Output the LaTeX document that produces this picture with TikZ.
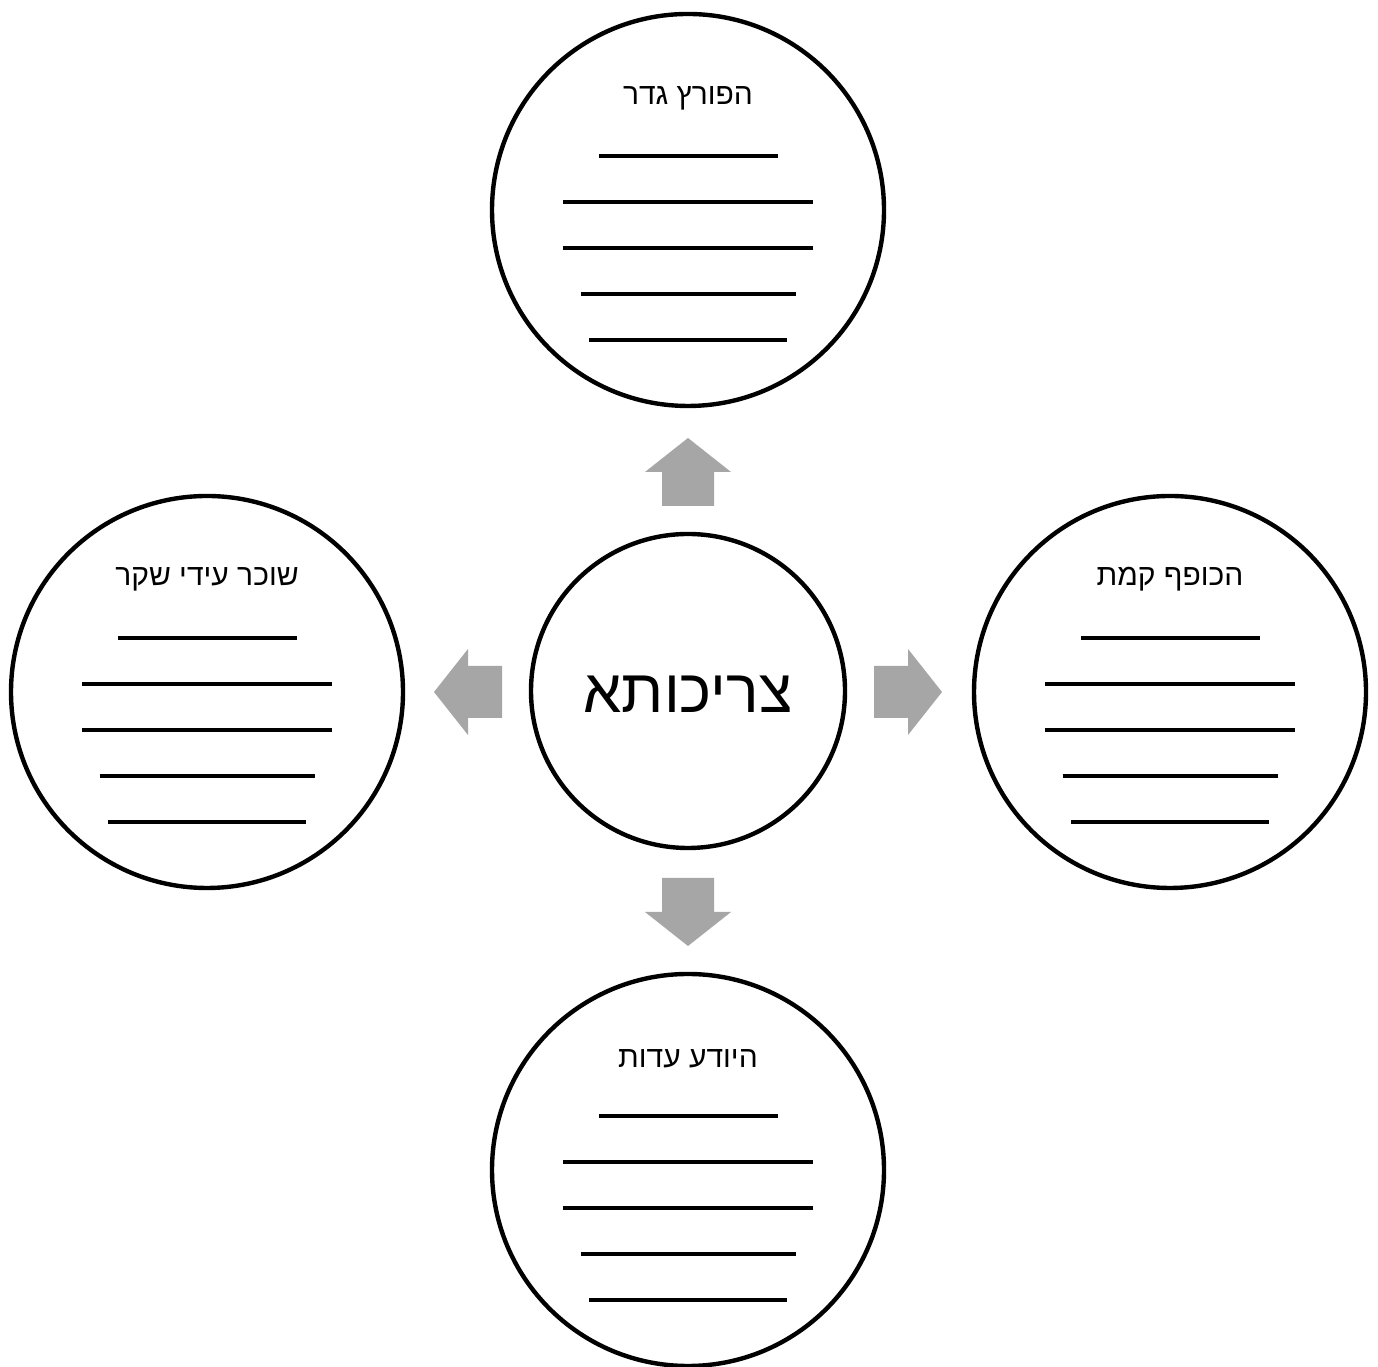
\documentclass[tikz,border=0pt]{standalone}
\usepackage{fontspec}
\setmainfont{Liberation Sans}
\newfontfamily\hebfont[Script=Hebrew]{Liberation Sans}
\TeXXeTstate=1
\usetikzlibrary{calc}
\definecolor{arrowgray}{HTML}{A6A6A6}
\tikzset{
  bubble/.style={circle,draw=black,line width=4.4pt,minimum size=392pt,inner sep=0pt},
  hub/.style={circle,draw=black,line width=4.4pt,minimum size=314pt,inner sep=0pt},
  title/.style={font=\hebfont\fontsize{30}{36}\selectfont,inner sep=0pt,anchor=base},
  hubtext/.style={font=\hebfont\fontsize{61}{70}\selectfont,inner sep=0pt,anchor=base},
  blank/.style={line width=3.2pt,black},
  blockarr/.pic={\fill[arrowgray] (0,-26) -- (34,-26) -- (34,-43) -- (68,0) -- (34,43) -- (34,26) -- (0,26) -- cycle;}
}
\newcommand{\blanklines}[1]{%
  \draw[blank] ($(#1)+(-89.5,54)$) -- ++(179,0);
  \draw[blank] ($(#1)+(-125,8)$) -- ++(250,0);
  \draw[blank] ($(#1)+(-125,-38)$) -- ++(250,0);
  \draw[blank] ($(#1)+(-107.5,-84)$) -- ++(215,0);
  \draw[blank] ($(#1)+(-99,-130)$) -- ++(198,0);
}
\begin{document}
\begin{tikzpicture}[x=1pt,y=1pt]
\useasboundingbox (0,0) rectangle (1378,1367);
\fill[white] (0,0) rectangle (1378,1367);

% circles
\node[hub] (C) at (688,676) {};
\node[bubble] (T) at (688,1157) {};
\node[bubble] (B) at (688,197) {};
\node[bubble] (L) at (207,675) {};
\node[bubble] (R) at (1170,675) {};

% texts
\node[hubtext] (Ct) at ($(C)+(0,-22)$) {\beginR צריכותא\endR};
\node[title] (Tt) at ($(T)+(0,105)$) {\beginR הפורץ גדר\endR};
\node[title] (Rt) at ($(R)+(0,106)$) {\beginR הכופף קמת\endR};
\node[title] (Lt) at ($(L)+(0,106)$) {\beginR שוכר עידי שקר\endR};
\node[title] (Bt) at ($(B)+(0,102)$) {\beginR היודע עדות\endR};

% blank lines
\blanklines{T}
\blanklines{R}
\blanklines{L}
\blanklines{B}

% block arrows
\pic[rotate=90] at ($(C)+(0,185)$) {blockarr};
\pic[rotate=0] at ($(C)+(186,-1)$) {blockarr};
\pic[rotate=180] at ($(C)+(-186,-1)$) {blockarr};
\pic[rotate=270] at ($(C)+(0,-187)$) {blockarr};
\end{tikzpicture}
\end{document}
